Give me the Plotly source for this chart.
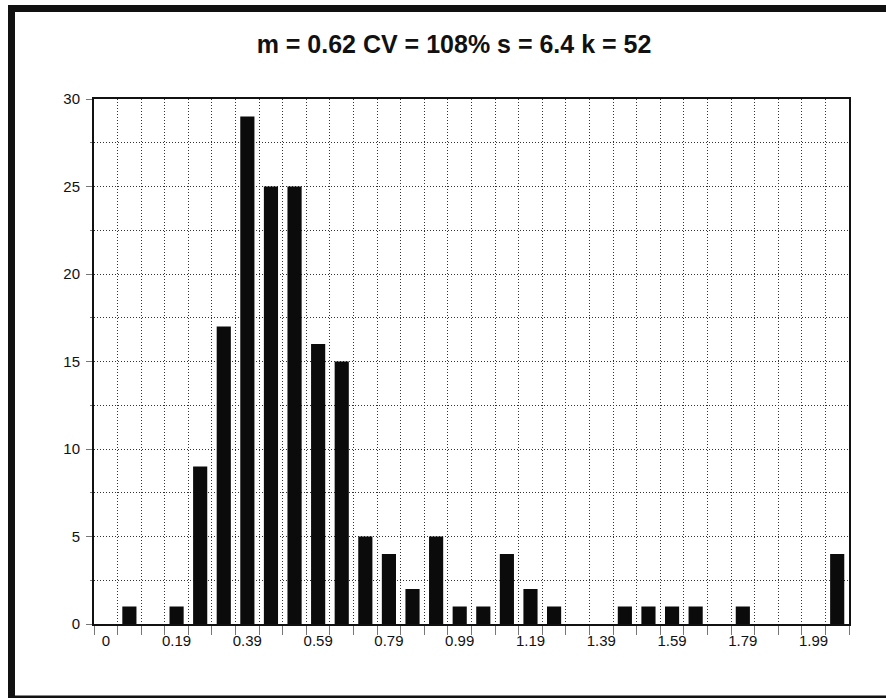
import plotly.graph_objects as go

# ---- data ----
bin_labels = ["0", "0.06", "0.13", "0.19", "0.26", "0.33", "0.39", "0.46",
              "0.53", "0.59", "0.66", "0.73", "0.79", "0.86", "0.93", "0.99",
              "1.06", "1.13", "1.19", "1.26", "1.33", "1.39", "1.46", "1.53",
              "1.59", "1.66", "1.73", "1.79", "1.86", "1.93", "1.99", "2.06"]
counts = [0, 1, 0, 1, 9, 17, 29, 25, 25, 16, 15, 5, 4, 2, 5, 1,
          1, 4, 2, 1, 0, 0, 1, 1, 1, 1, 0, 1, 0, 0, 0, 4]
x_tick_text = ["0", "", "", "0.19", "", "", "0.39", "", "", "0.59", "", "",
               "0.79", "", "", "0.99", "", "", "1.19", "", "", "1.39", "", "",
               "1.59", "", "", "1.79", "", "", "1.99", ""]
y_tick_vals = [0, 5, 10, 15, 20, 25, 30]
y_tick_text = ["0", "5", "10", "15", "20", "25", "30"]
title_text = "m = 0.62 CV = 108% s = 6.4 k = 52"

# ---- layout geometry (pixels) ----
W, H = 886, 698
L, R, T, B = 94, 37, 99, 74
pw, ph = W - L - R, H - T - B

def px(x):
    return (x - L) / pw

def py(y):
    return (H - B - y) / ph

tick_font = "Liberation Sans, Arial, sans-serif"
grid_col = "#333333"
grid_dash = "1px,2px"

fig = go.Figure(go.Bar(
    x=bin_labels, y=counts,
    marker=dict(color="#0b0b0b", line=dict(width=0)),
    hoverinfo="x+y",
))

fig.update_layout(
    width=W, height=H,
    margin=dict(l=L, r=R, t=T, b=B),
    paper_bgcolor="white", plot_bgcolor="white",
    bargap=0.4,
    showlegend=False,
    title=dict(text=title_text, x=px(454), xref="paper", xanchor="center",
               y=1 - 44 / H, yref="container", yanchor="middle",
               font=dict(family="Liberation Sans, Arial, sans-serif", size=25,
                         color="#111111", weight="bold")),
    xaxis=dict(
        type="category", categoryorder="array", categoryarray=bin_labels,
        range=[-0.5, len(bin_labels) - 0.5],
        tickmode="array", tickvals=bin_labels, ticktext=x_tick_text,
        tickangle=0,
        tickson="boundaries", ticks="outside", ticklen=9, tickwidth=1,
        tickcolor="#777777",
        ticklabelstandoff=2,
        showgrid=True, gridcolor=grid_col, griddash=grid_dash, gridwidth=1,
        showline=True, linecolor="#111111", linewidth=2, mirror=True,
        tickfont=dict(family=tick_font, size=15, color="#111111"),
        zeroline=False,
    ),
    yaxis=dict(
        range=[0, 30], tickmode="array", tickvals=y_tick_vals, ticktext=y_tick_text,
        ticks="outside", ticklen=6, tickwidth=1, tickcolor="#777777",
        ticklabelstandoff=3,
        showgrid=True, gridcolor=grid_col, griddash=grid_dash, gridwidth=1,
        minor=dict(tick0=0, dtick=2.5, showgrid=True, gridcolor=grid_col,
                   griddash=grid_dash, gridwidth=1, ticks="outside", ticklen=2,
                   tickcolor="#777777"),
        showline=True, linecolor="#111111", linewidth=2, mirror=True,
        tickfont=dict(family=tick_font, size=15, color="#111111"),
        zeroline=False,
    ),
    shapes=[dict(type="rect", xref="paper", yref="paper",
                 x0=px(11.5), x1=px(895), y0=py(8.5), y1=py(699),
                 line=dict(color="#111111", width=7), fillcolor="rgba(0,0,0,0)",
                 layer="above")],
)

fig.write_html("out.html",
               config={"displayModeBar": False},
               post_script="document.body.style.margin='0px';"
                           "document.body.style.overflow='hidden';")
